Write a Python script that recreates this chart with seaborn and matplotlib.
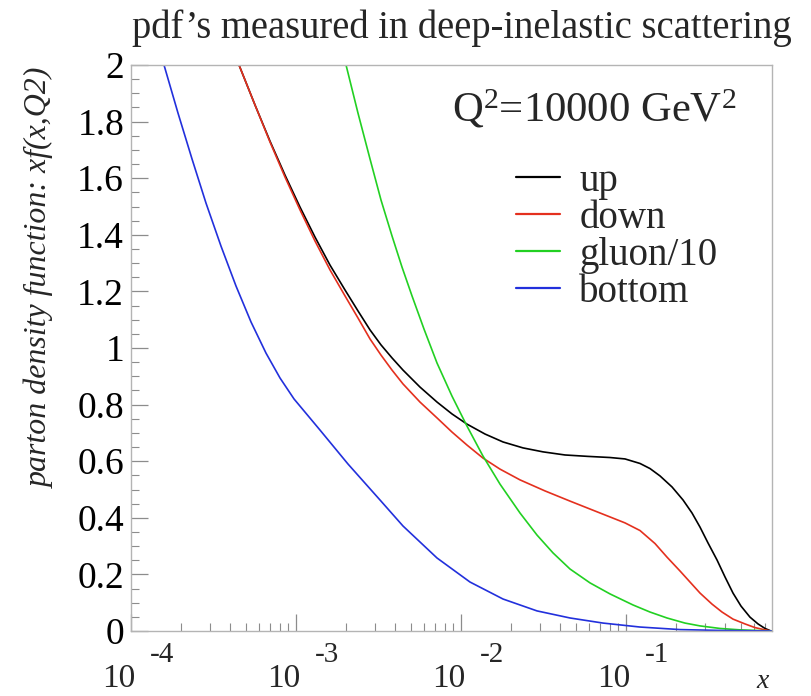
import matplotlib
matplotlib.use("Agg")
import matplotlib.pyplot as plt
import matplotlib.transforms as mtransforms
from matplotlib.ticker import MultipleLocator, NullFormatter, LogLocator
import pandas as pd
import seaborn as sns

# ---------------- data ----------------
series_names = ["up", "down", "gluon/10", "bottom"]
series_colors = ["#000000", "#e4301e", "#22d022", "#2230dc"]

up_x = [4.514e-4, 5.641e-4, 6.956e-4, 8.577e-4, 1.0574e-3, 1.3036e-3, 1.607e-3,
        1.982e-3, 2.375e-3, 2.809e-3, 3.274e-3, 3.818e-3, 4.451e-3, 5.641e-3,
        7.154e-3, 8.818e-3, 1.0873e-2, 1.3979e-2, 1.797e-2, 2.375e-2, 3.141e-2,
        4.268e-2, 5.885e-2, 8.0e-2, 9.861e-2, 0.12157, 0.13978, 0.1607, 0.19005,
        0.22157, 0.25119, 0.28092, 0.31412, 0.35606, 0.39811, 0.44512, 0.49777,
        0.5641, 0.63096, 0.69566, 0.75615]
up_y = [2.000, 1.859, 1.731, 1.611, 1.498, 1.392, 1.293,
        1.205, 1.131, 1.064, 1.011, 0.965, 0.922, 0.862,
        0.809, 0.767, 0.731, 0.696, 0.668, 0.647, 0.633,
        0.622, 0.617, 0.613, 0.608, 0.592, 0.574, 0.548, 0.509,
        0.463, 0.417, 0.367, 0.311, 0.251, 0.191, 0.134, 0.088,
        0.049, 0.025, 0.009, 0.0]

down_x = [4.514e-4, 5.641e-4, 6.956e-4, 8.577e-4, 1.0574e-3, 1.3036e-3, 1.607e-3,
          1.982e-3, 2.375e-3, 2.809e-3, 3.274e-3, 3.818e-3, 4.451e-3, 5.641e-3,
          7.154e-3, 8.818e-3, 1.0873e-2, 1.3594e-2, 1.7234e-2, 2.278e-2, 3.228e-2,
          4.578e-2, 6.051e-2, 8.0e-2, 9.861e-2, 0.12157, 0.1499, 0.17721, 0.21249,
          0.24427, 0.28092, 0.33214, 0.3818, 0.44512, 0.52611, 0.6049, 0.69566,
          0.75615]
down_y = [2.000, 1.859, 1.728, 1.604, 1.488, 1.378, 1.276,
          1.184, 1.106, 1.032, 0.975, 0.922, 0.873, 0.809,
          0.753, 0.703, 0.657, 0.611, 0.572, 0.534, 0.495,
          0.459, 0.431, 0.403, 0.382, 0.355, 0.309, 0.261, 0.212,
          0.173, 0.134, 0.095, 0.067, 0.042, 0.025, 0.012, 0.004,
          0.0]

gluon_x = [2.010e-3, 2.375e-3, 2.809e-3, 3.274e-3, 3.818e-3, 4.389e-3, 5.048e-3,
           5.966e-3, 7.154e-3, 8.818e-3, 1.0873e-2, 1.3594e-2, 1.7234e-2,
           2.278e-2, 2.888e-2, 3.61e-2, 4.578e-2, 6.051e-2, 8.0e-2, 0.11025,
           0.13978, 0.17721, 0.22781, 0.28092, 0.37129, 0.49088, 0.76677]
gluon_y = [2.000, 1.830, 1.668, 1.523, 1.396, 1.286, 1.184,
           1.067, 0.947, 0.830, 0.724, 0.618, 0.519,
           0.417, 0.339, 0.276, 0.219, 0.170, 0.131, 0.092,
           0.067, 0.046, 0.028, 0.018, 0.009, 0.004, 0.0]

bottom_x = [1.585e-4, 1.927e-4, 2.343e-4, 2.848e-4, 3.511e-4, 4.329e-4, 5.337e-4,
            6.579e-4, 8.0e-4, 9.725e-4, 1.3978e-3, 2.066e-3, 3.274e-3, 4.451e-3,
            7.154e-3, 1.1338e-2, 1.797e-2, 2.888e-2, 4.578e-2, 7.256e-2, 0.12157,
            0.21249, 0.37129, 0.76677]
bottom_y = [2.000, 1.830, 1.668, 1.512, 1.360, 1.219, 1.092,
            0.982, 0.894, 0.820, 0.710, 0.590, 0.459, 0.371,
            0.258, 0.173, 0.113, 0.071, 0.046, 0.028, 0.014,
            0.005, 0.002, 0.0]

y_ticks = [0, 0.2, 0.4, 0.6, 0.8, 1.0, 1.2, 1.4, 1.6, 1.8, 2.0]
y_tick_labels = ["0", "0.2", "0.4", "0.6", "0.8", "1", "1.2", "1.4", "1.6", "1.8", "2"]
x_decades = [1e-4, 1e-3, 1e-2, 1e-1]
x_tick_bases = ["10", "10", "10", "10"]
x_tick_exponents = ["-4", "-3", "-2", "-1"]
x_limits = (1e-4, 0.767)
y_limits = (0, 2)

title_text = "pdf\u2019s measured in deep-inelastic scattering"
ylabel_text = "parton density function: xf(x,Q2)"
xlabel_text = "x"
scale_text = "Q$^{2}$=10000 GeV$^{2}$"

# ---------------- style ----------------
sns.set_theme(style="white")
plt.rcParams["font.family"] = ["Liberation Serif", "DejaVu Serif"]
plt.rcParams["mathtext.fontset"] = "custom"
plt.rcParams["mathtext.rm"] = "Liberation Serif"
plt.rcParams["mathtext.it"] = "Liberation Serif:italic"

W, H = 811, 696
fig = plt.figure(figsize=(W / 100, H / 100), dpi=100)
fig.patch.set_facecolor("white")
ax = fig.add_axes([131 / W, 1 - 631 / H, (772 - 131) / W, (631 - 65) / H])

frames = []
for name, xs, ys in zip(series_names,
                        [up_x, down_x, gluon_x, bottom_x],
                        [up_y, down_y, gluon_y, bottom_y]):
    frames.append(pd.DataFrame({"x": xs, "y": ys, "parton": name}))
df = pd.concat(frames, ignore_index=True)

sns.lineplot(data=df, x="x", y="y", hue="parton", hue_order=series_names,
             palette=dict(zip(series_names, series_colors)),
             estimator=None, sort=False, linewidth=1.2, ax=ax, legend=False)

ax.set_xscale("log")
ax.set_xlim(*x_limits)
ax.set_ylim(*y_limits)
ax.set_xlabel("")
ax.set_ylabel("")
ax.set_facecolor("white")

for s in ax.spines.values():
    s.set_color("#b4b4b4")
    s.set_linewidth(1.0)

ax.xaxis.set_major_locator(LogLocator(base=10, numticks=10))
ax.xaxis.set_minor_locator(LogLocator(base=10, subs=range(2, 10), numticks=20))
ax.xaxis.set_major_formatter(NullFormatter())
ax.xaxis.set_minor_formatter(NullFormatter())
ax.set_yticks(y_ticks, labels=y_tick_labels)
ax.yaxis.set_minor_locator(MultipleLocator(0.05))

ax.tick_params(which="both", direction="in", bottom=True, left=True,
               top=False, right=False, color="#8c8c8c", labelcolor="black")
ax.tick_params(which="major", length=12, width=0.9)
ax.tick_params(which="minor", length=6, width=0.8)
ax.tick_params(axis="y", which="major", labelsize=27, pad=5)

# x tick labels in "10  -n" style
for xv, base, ex in zip(x_decades, x_tick_bases, x_tick_exponents):
    t1 = mtransforms.offset_copy(ax.get_xaxis_transform(), fig=fig, x=4, y=-(687 - 631), units="dots")
    ax.text(xv, 0, base, transform=t1, ha="right", va="baseline", fontsize=24)
    t2 = mtransforms.offset_copy(ax.get_xaxis_transform(), fig=fig, x=19, y=-(662 - 631), units="dots")
    ax.text(xv, 0, ex, transform=t2, ha="left", va="baseline", fontsize=21)

title = fig.text(462 / W, 1 - 38 / H, title_text, ha="center", va="baseline", fontsize=26)
ylab = fig.text(40 / W, 1 - 278 / H, ylabel_text, rotation=90, ha="center", va="center",
                style="italic", fontsize=22)
fig.text(763 / W, 1 - 688 / H, xlabel_text, style="italic", ha="center", va="baseline", fontsize=20)
qtext = fig.text(452 / W, 1 - 122 / H, scale_text, ha="left", va="baseline", fontsize=28)

leg = ax.legend(handles=ax.lines[:4], labels=series_names, loc="upper left",
                bbox_to_anchor=(516 / W, 1 - 163 / H), bbox_transform=fig.transFigure,
                frameon=False, fontsize=28, handlelength=1.13, handletextpad=0.5,
                labelspacing=0.0, borderpad=0, borderaxespad=0)
for ln in leg.get_lines():
    ln.set_linewidth(1.6)

# fit text extents to reference
fig.canvas.draw()
r = fig.canvas.get_renderer()
def fit_w(t, target):
    w = t.get_window_extent(renderer=r).width
    t.set_fontsize(t.get_fontsize() * target / w)
def fit_h(t, target):
    h = t.get_window_extent(renderer=r).height
    t.set_fontsize(t.get_fontsize() * target / h)
fit_w(title, 660)
fit_h(ylab, 418)
fit_w(qtext, 285)

fig.savefig("out.png", dpi=100, facecolor="white")
